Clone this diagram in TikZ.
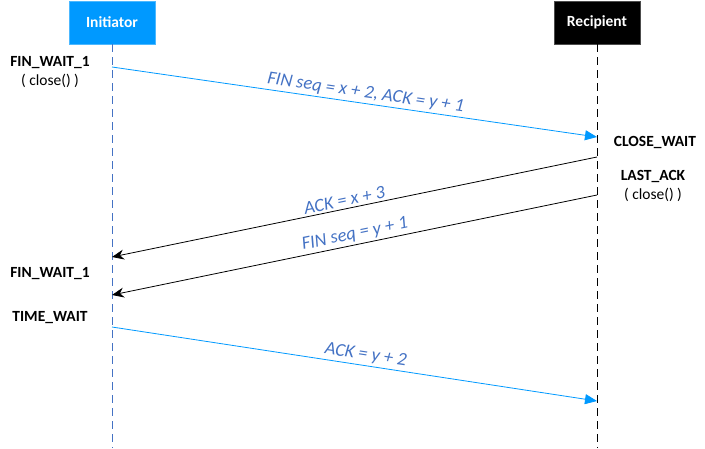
\documentclass[tikz,border=0pt]{standalone}
\usepackage{fontspec}
\setmainfont{Carlito}
\usetikzlibrary{arrows.meta}
\definecolor{boxblue}{HTML}{0099FF}
\definecolor{lineblue}{HTML}{0099FF}
\definecolor{lblblue}{HTML}{4472C4}
\definecolor{lifeblue}{HTML}{4472C4}
\begin{document}
\begin{tikzpicture}[x=1pt,y=-1pt,
  actor/.style={minimum width=86pt,minimum height=43pt,inner sep=0pt,font=\bfseries\fontsize{15.5}{18}\selectfont,text=white},
  state/.style={font=\bfseries\fontsize{15.5}{18}\selectfont,inner sep=0pt},
  sub/.style={font=\fontsize{15.5}{18}\selectfont,inner sep=0pt},
  life/.style={dash pattern=on 8pt off 5pt,line width=0.9pt},
  bmsg/.style={draw=lineblue,line width=0.8pt,-{Triangle[length=12pt,width=10pt]}},
  kmsg/.style={draw=black,line width=0.8pt,-{Stealth[length=12pt,width=10pt]}},
  lbl/.style={font=\itshape\fontsize{18.5}{20}\selectfont,text=lblblue,inner sep=0.3pt,sloped,above=2pt}
]
\useasboundingbox (0,0) rectangle (705,448);
\node[actor,fill=boxblue,draw=boxblue!70!white] (ini) at (112,22.5) {Initiator};
\node[actor,fill=black,draw=black!70!white] (rec) at (597,22.5) {Recipient};
\coordinate (iniend) at (112,448);
\coordinate (recend) at (597,448);
\draw[life,draw=lifeblue] (ini.south) -- (iniend);
\draw[life,draw=black] (rec.south) -- (recend);

\coordinate (a1) at (112,67);
\coordinate (b1) at (597,137);
\coordinate (a2) at (597,157);
\coordinate (b2) at (112,257);
\coordinate (a3) at (597,195);
\coordinate (b3) at (112,295);
\coordinate (a4) at (112,327);
\coordinate (b4) at (597,401);

\draw[bmsg] (a1) -- node[lbl,pos=0.52] {FIN seq = x + 2, ACK = y + 1} (b1);
\draw[kmsg] (a2) -- node[lbl,pos=0.517] {ACK = x + 3} (b2);
\draw[kmsg] (a3) -- node[lbl,pos=0.495] {FIN seq = y + 1} (b3);
\draw[bmsg] (a4) -- node[lbl,pos=0.52] {ACK = y + 2} (b4);

\node[state] (s1) at (50,63) {FIN\_WAIT\_1};
\node[sub] (s1b) at (50,81) {( close() )};
\node[state] (s2) at (655,142) {CLOSE\_WAIT};
\node[state] (s3) at (653,176) {LAST\_ACK};
\node[sub] (s3b) at (653,195) {( close() )};
\node[state] (s4) at (50,274) {FIN\_WAIT\_1};
\node[state] (s5) at (50,318) {TIME\_WAIT};
\end{tikzpicture}
\end{document}
